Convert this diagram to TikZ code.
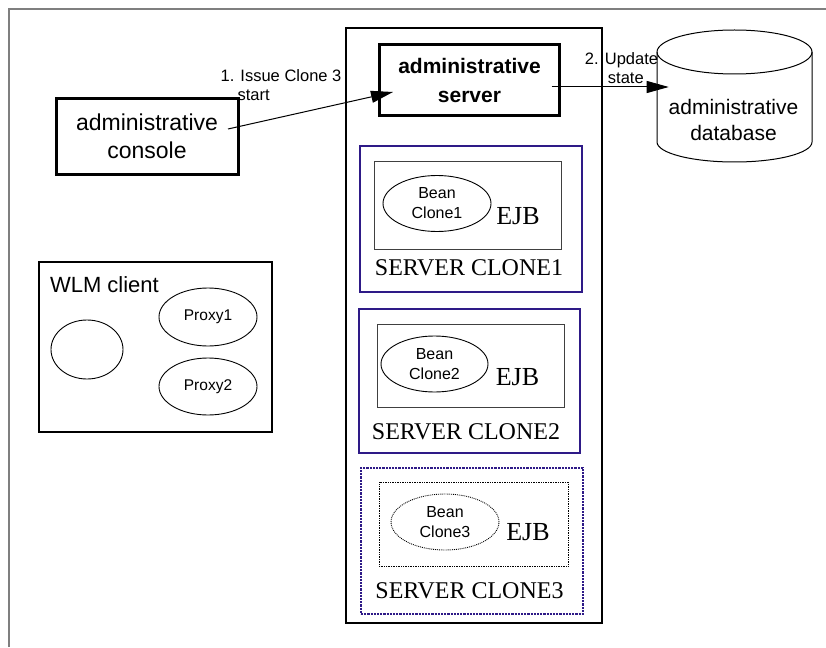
\documentclass[tikz,border=0pt]{standalone}
\usepackage{fontspec}
\setmainfont{Liberation Sans}
\newfontfamily\timesfont{Liberation Serif}
\usepackage{xcolor}
\usepackage{tikz}
\usetikzlibrary{arrows.meta, positioning, shapes.geometric}
\definecolor{clonecol}{HTML}{2E1A87}
\definecolor{framegray}{HTML}{7F7F7F}

\begin{document}
\begin{tikzpicture}[x=1pt, y=-1pt,
      every node/.style={inner sep=0pt, outer sep=0pt},
      thickbox/.style={draw, line width=3pt, align=center},
      clonebox/.style={draw=clonecol, line width=2.2pt, minimum width=222pt, minimum height=146pt},
      ejbbox/.style={draw=black!75, line width=0.9pt},
      bean/.style={ellipse, draw, line width=0.9pt, minimum width=108pt, minimum height=56pt, align=center, font=\fontsize{16}{20}\selectfont},
      ejb/.style={font=\timesfont\fontsize{26}{30}\selectfont},
      clonename/.style={font=\timesfont\fontsize{24}{28}\selectfont},
      proxy/.style={ellipse, draw, line width=0.9pt, minimum width=98pt, minimum height=58pt, font=\fontsize{15.5}{18}\selectfont},
      msglabel/.style={font=\fontsize{16.5}{19.5}\selectfont, align=left},
      msg/.style={-{Triangle[length=22pt, width=12pt]}, line width=1pt}]
    \useasboundingbox (0,0) rectangle (826,647);
    \draw[framegray, line width=1.5pt] (9,647) -- (9,9) -- (826,9);

    % console and server
    \node[thickbox, minimum width=182pt, minimum height=75pt, font=\fontsize{23}{28}\selectfont]
      (console) at (147,136.5) {administrative\\console};
    \node[draw, line width=2.5pt, minimum width=256pt, minimum height=595pt] (container) at (474,325.5) {};
    \node[thickbox, minimum width=180pt, minimum height=71pt, font=\fontsize{21}{29}\selectfont\bfseries]
      (server) at (469.5,80.5) {administrative\\server};

    % database
    \draw[line width=1pt] (734.5,52) ellipse [x radius=77.5pt, y radius=22pt];
    \draw[line width=1pt] (657,52) -- (657,142) arc[start angle=180, end angle=360, x radius=77.5pt, y radius=20pt] -- (812,52);
    \node[align=center, font=\fontsize{21}{26}\selectfont] (db) at (733.5,120) {administrative\\database};

    % messages
    \draw[msg] ([xshift=-10pt, yshift=7.5pt]console.east) -- ([xshift=13.5pt, yshift=-11.5pt]server.west);
    \node[msglabel] (issue) at (281,85) {1. Issue Clone 3\\\hspace*{17pt}start};
    \coordinate (upd) at ([xshift=-8pt, yshift=-6.5pt]server.east);
    \draw[msg] (upd) -- (upd -| db.west);
    \node[msglabel] (update) at (621.5,68) {2. Update\\\hspace*{23pt}state};

    % clone 1
    \node[clonebox] (clone1) at (471,219) {};
    \node[ejbbox, minimum width=187pt, minimum height=88pt] (ejb1) at (467.5,205) {};
    \node[bean] (bean1) at (437,203.5) {Bean\\Clone1};
    \node[ejb] (ejbtext1) at (518,216.5) {EJB};
    \node[clonename] (name1) at (469,267.5) {SERVER CLONE1};

    % clone 2
    \node[clonebox, minimum width=221pt, minimum height=144pt] (clone2) at (469.5,381) {};
    \node[ejbbox, minimum width=187pt, minimum height=83pt] (ejb2) at (470.5,365.5) {};
    \node[bean, minimum width=107pt] (bean2) at (434.5,364) {Bean\\Clone2};
    \node[ejb] (ejbtext2) at (517.5,377.5) {EJB};
    \node[clonename] (name2) at (466,432) {SERVER CLONE2};

    % clone 3 (not started)
    \node[clonebox, densely dotted] (clone3) at (472,541) {};
    \node[ejbbox, draw=black, line width=0.7pt, densely dotted, minimum width=189pt, minimum height=84pt] (ejb3) at (473.5,524) {};
    \node[bean, densely dotted] (bean3) at (445,522) {Bean\\Clone3};
    \node[ejb] (ejbtext3) at (528,532.5) {EJB};
    \node[clonename] (name3) at (469.5,590.5) {SERVER CLONE3};

    % WLM client
    \node[draw, line width=2pt, minimum width=233pt, minimum height=170pt] (wlm) at (155.5,347) {};
    \node[anchor=west, font=\fontsize{22}{26}\selectfont] (wlmtext) at (50,285) {WLM client};
    \node[ellipse, draw, line width=0.9pt, minimum width=72pt, minimum height=59pt] (stub) at (87,349.5) {};
    \node[proxy] (proxy1) at (208,317) {Proxy1};
    \node[proxy, minimum height=57pt] (proxy2) at (208,386.5) {Proxy2};
  \end{tikzpicture}
\end{document}
